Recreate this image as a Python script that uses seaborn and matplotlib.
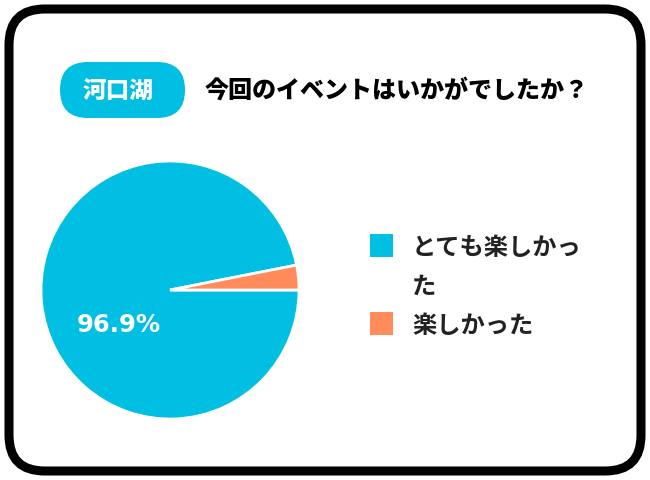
import matplotlib
matplotlib.use("Agg")
import matplotlib.pyplot as plt
from matplotlib.patches import FancyBboxPatch
import seaborn as sns

categories = ["とても楽しかった", "楽しかった"]
legend_lines = [["とても楽しかっ", "た"], ["楽しかった"]]
values = [96.9, 3.1]
colors = ["#00BFE2", "#FF8C5A"]
tag_text = "河口湖"
title_text = "今回のイベントはいかがでしたか？"

sns.set_theme(style="white")
plt.rcParams['font.family'] = ['Noto Sans CJK JP', 'DejaVu Sans']

W, H = 650, 480
fig = plt.figure(figsize=(W / 100, H / 100), dpi=100)
fig.patch.set_facecolor("white")

def fx(x):
    return x / W

def fy(y):
    return 1 - y / H

# outer rounded border
border = FancyBboxPatch((fx(9), fy(471)), fx(632), 462 / H,
                        boxstyle="round,pad=0,rounding_size=0.055",
                        transform=fig.transFigure, fill=False,
                        edgecolor="black", linewidth=6.5, mutation_aspect=W / H)
fig.patches.append(border)

# tag pill
pill = FancyBboxPatch((fx(60), fy(118)), fx(125), 56 / H,
                      boxstyle="round,pad=0,rounding_size=0.043",
                      transform=fig.transFigure, facecolor="#00BFE2",
                      edgecolor="none", mutation_aspect=W / H)
fig.patches.append(pill)
fig.text(fx(118), fy(90), tag_text, color="white", fontsize=17, fontweight="heavy",
         ha="center", va="center")
fig.text(fx(205), fy(90), title_text, color="black", fontsize=17.3, fontweight="heavy",
         ha="left", va="center")

# pie
cx, cy, r = 170, 290, 129
ax = fig.add_axes([fx(cx - r), (H - cy - r) / H, 2 * r / W, 2 * r / H])
wedges, _ = ax.pie(values, colors=colors, startangle=0, counterclock=False,
                   wedgeprops=dict(edgecolor="white", linewidth=2))
ax.set_xlim(-1, 1)
ax.set_ylim(-1, 1)
ax.set_aspect("equal")
ax.axis("off")
ax.text(-0.395, -0.27, f"{values[0]:.1f}%", color="white", fontsize=17.5,
        fontweight="bold", family=["DejaVu Sans"], ha="center", va="center")

# legend
leg_y = [246, 324]
text_y = [[248, 287], [326]]
for lines, c, ly, tys in zip(legend_lines, colors, leg_y, text_y):
    fig.patches.append(plt.Rectangle((fx(370), fy(ly + 11)), fx(23), 23 / H,
                                     transform=fig.transFigure, facecolor=c,
                                     edgecolor="none"))
    for line, ty in zip(lines, tys):
        fig.text(fx(412), fy(ty), line, color="#222222", fontsize=17.5,
                 fontweight="bold", ha="left", va="center")

fig.savefig("out.png", dpi=100)
